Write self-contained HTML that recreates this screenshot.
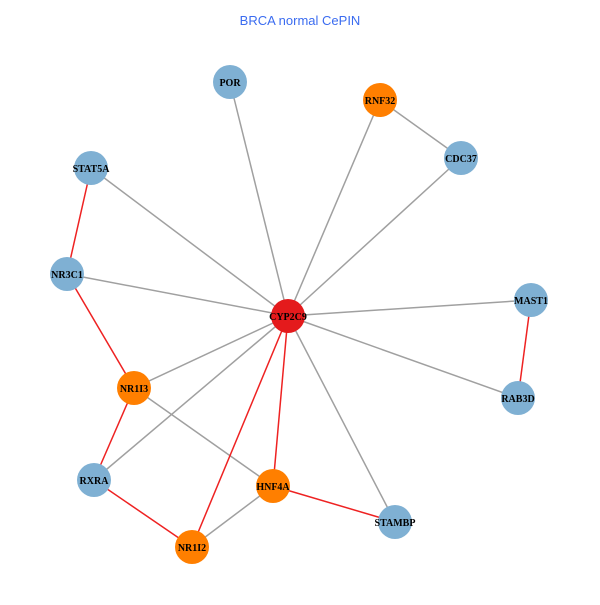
<!DOCTYPE html><html><head><style>body{margin:0;background:#fff}</style></head><body>
<svg width="600" height="600" xmlns="http://www.w3.org/2000/svg">
<rect width="600" height="600" fill="#fff"/>
<text x="300" y="25" text-anchor="middle" font-family="Liberation Sans, sans-serif" font-size="13" fill="#3b6cf0">BRCA normal CePIN</text>
<g stroke="#a0a0a0" stroke-width="1.5">
<line x1="288" y1="316" x2="230" y2="82"/>
<line x1="288" y1="316" x2="380" y2="100"/>
<line x1="288" y1="316" x2="461" y2="158"/>
<line x1="288" y1="316" x2="91" y2="168"/>
<line x1="288" y1="316" x2="67" y2="274"/>
<line x1="288" y1="316" x2="531" y2="300"/>
<line x1="288" y1="316" x2="518" y2="398"/>
<line x1="288" y1="316" x2="134" y2="388"/>
<line x1="288" y1="316" x2="94" y2="480"/>
<line x1="288" y1="316" x2="395" y2="522"/>
<line x1="380" y1="100" x2="461" y2="158"/>
<line x1="134" y1="388" x2="273" y2="486"/>
<line x1="273" y1="486" x2="192" y2="547"/>
</g>
<g stroke="#ee2222" stroke-width="1.5">
<line x1="288" y1="316" x2="273" y2="486"/>
<line x1="288" y1="316" x2="192" y2="547"/>
<line x1="91" y1="168" x2="67" y2="274"/>
<line x1="67" y1="274" x2="134" y2="388"/>
<line x1="134" y1="388" x2="94" y2="480"/>
<line x1="94" y1="480" x2="192" y2="547"/>
<line x1="531" y1="300" x2="518" y2="398"/>
<line x1="273" y1="486" x2="395" y2="522"/>
</g>
<g>
<circle cx="288" cy="316" r="17" fill="#e41a1c"/>
<circle cx="230" cy="82" r="17" fill="#7fb0d3"/>
<circle cx="380" cy="100" r="17" fill="#ff7f00"/>
<circle cx="461" cy="158" r="17" fill="#7fb0d3"/>
<circle cx="91" cy="168" r="17" fill="#7fb0d3"/>
<circle cx="67" cy="274" r="17" fill="#7fb0d3"/>
<circle cx="531" cy="300" r="17" fill="#7fb0d3"/>
<circle cx="518" cy="398" r="17" fill="#7fb0d3"/>
<circle cx="134" cy="388" r="17" fill="#ff7f00"/>
<circle cx="94" cy="480" r="17" fill="#7fb0d3"/>
<circle cx="273" cy="486" r="17" fill="#ff7f00"/>
<circle cx="395" cy="522" r="17" fill="#7fb0d3"/>
<circle cx="192" cy="547" r="17" fill="#ff7f00"/>
</g>
<g font-family="Liberation Serif, serif" font-size="10" font-weight="bold" text-anchor="middle" fill="#000">
<text x="288" y="320">CYP2C9</text>
<text x="230" y="86">POR</text>
<text x="380" y="104">RNF32</text>
<text x="461" y="162">CDC37</text>
<text x="91" y="172">STAT5A</text>
<text x="67" y="278">NR3C1</text>
<text x="531" y="304">MAST1</text>
<text x="518" y="402">RAB3D</text>
<text x="134" y="392">NR1I3</text>
<text x="94" y="484">RXRA</text>
<text x="273" y="490">HNF4A</text>
<text x="395" y="526">STAMBP</text>
<text x="192" y="551">NR1I2</text>
</g>
</svg>
</body></html>
